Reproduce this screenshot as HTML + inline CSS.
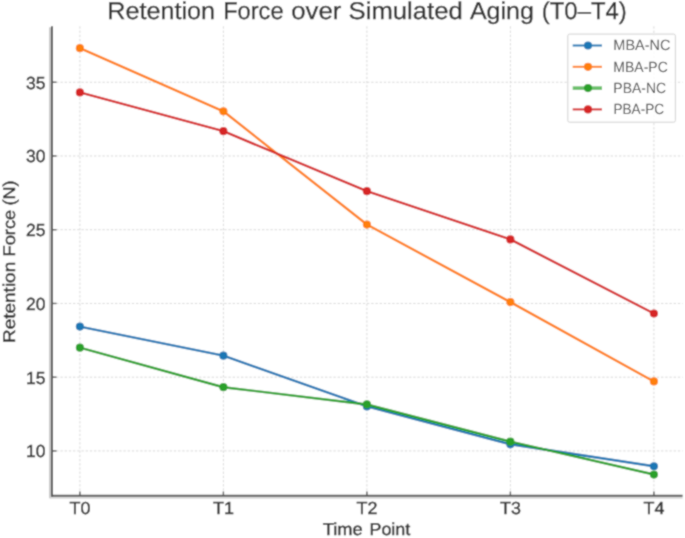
<!DOCTYPE html>
<html><head><meta charset="utf-8"><style>
html,body{margin:0;padding:0;background:#fff;}
body{width:685px;height:538px;overflow:hidden;}
svg{display:block;font-family:"Liberation Sans", sans-serif;text-rendering:geometricPrecision;}

</style></head><body>
<svg width="685" height="538" viewBox="0 0 685 538">
<defs><filter id="bl" filterUnits="userSpaceOnUse" x="0" y="0" width="685" height="538"><feConvolveMatrix order="3" kernelMatrix="1 2 1 2 8 2 1 2 1" divisor="20" edgeMode="duplicate" preserveAlpha="false"/></filter></defs>
<rect x="0" y="0" width="685" height="538" fill="#fff"/>
<g filter="url(#bl)">
<rect x="0" y="0" width="685" height="538" fill="#fff"/>
<line x1="79.90" y1="26.30" x2="79.90" y2="496.00" stroke="#d9d9d9" stroke-width="1" stroke-dasharray="2.4 1.8"/>
<line x1="223.40" y1="26.30" x2="223.40" y2="496.00" stroke="#d9d9d9" stroke-width="1" stroke-dasharray="2.4 1.8"/>
<line x1="366.90" y1="26.30" x2="366.90" y2="496.00" stroke="#d9d9d9" stroke-width="1" stroke-dasharray="2.4 1.8"/>
<line x1="510.40" y1="26.30" x2="510.40" y2="496.00" stroke="#d9d9d9" stroke-width="1" stroke-dasharray="2.4 1.8"/>
<line x1="653.90" y1="26.30" x2="653.90" y2="496.00" stroke="#d9d9d9" stroke-width="1" stroke-dasharray="2.4 1.8"/>
<line x1="52.00" y1="450.93" x2="682.60" y2="450.93" stroke="#d9d9d9" stroke-width="1" stroke-dasharray="2.4 1.8"/>
<line x1="52.00" y1="377.19" x2="682.60" y2="377.19" stroke="#d9d9d9" stroke-width="1" stroke-dasharray="2.4 1.8"/>
<line x1="52.00" y1="303.45" x2="682.60" y2="303.45" stroke="#d9d9d9" stroke-width="1" stroke-dasharray="2.4 1.8"/>
<line x1="52.00" y1="229.71" x2="682.60" y2="229.71" stroke="#d9d9d9" stroke-width="1" stroke-dasharray="2.4 1.8"/>
<line x1="52.00" y1="155.97" x2="682.60" y2="155.97" stroke="#d9d9d9" stroke-width="1" stroke-dasharray="2.4 1.8"/>
<line x1="52.00" y1="82.23" x2="682.60" y2="82.23" stroke="#d9d9d9" stroke-width="1" stroke-dasharray="2.4 1.8"/>
<polyline points="79.90,326.60 223.40,355.66 366.90,406.39 510.40,444.29 653.90,466.27" fill="none" stroke="#1f77b4" stroke-width="2.4" stroke-linejoin="round" stroke-linecap="round"/>
<circle cx="79.90" cy="326.60" r="4.1" fill="#1f77b4"/>
<circle cx="223.40" cy="355.66" r="4.1" fill="#1f77b4"/>
<circle cx="366.90" cy="406.39" r="4.1" fill="#1f77b4"/>
<circle cx="510.40" cy="444.29" r="4.1" fill="#1f77b4"/>
<circle cx="653.90" cy="466.27" r="4.1" fill="#1f77b4"/>
<polyline points="79.90,48.16 223.40,111.28 366.90,224.55 510.40,302.12 653.90,381.47" fill="none" stroke="#ff7f0e" stroke-width="2.4" stroke-linejoin="round" stroke-linecap="round"/>
<circle cx="79.90" cy="48.16" r="4.1" fill="#ff7f0e"/>
<circle cx="223.40" cy="111.28" r="4.1" fill="#ff7f0e"/>
<circle cx="366.90" cy="224.55" r="4.1" fill="#ff7f0e"/>
<circle cx="510.40" cy="302.12" r="4.1" fill="#ff7f0e"/>
<circle cx="653.90" cy="381.47" r="4.1" fill="#ff7f0e"/>
<polyline points="79.90,347.69 223.40,387.22 366.90,404.47 510.40,441.64 653.90,474.53" fill="none" stroke="#2ca02c" stroke-width="2.4" stroke-linejoin="round" stroke-linecap="round"/>
<circle cx="79.90" cy="347.69" r="4.1" fill="#2ca02c"/>
<circle cx="223.40" cy="387.22" r="4.1" fill="#2ca02c"/>
<circle cx="366.90" cy="404.47" r="4.1" fill="#2ca02c"/>
<circle cx="510.40" cy="441.64" r="4.1" fill="#2ca02c"/>
<circle cx="653.90" cy="474.53" r="4.1" fill="#2ca02c"/>
<polyline points="79.90,92.41 223.40,131.19 366.90,191.22 510.40,239.44 653.90,313.48" fill="none" stroke="#d62728" stroke-width="2.4" stroke-linejoin="round" stroke-linecap="round"/>
<circle cx="79.90" cy="92.41" r="4.1" fill="#d62728"/>
<circle cx="223.40" cy="131.19" r="4.1" fill="#d62728"/>
<circle cx="366.90" cy="191.22" r="4.1" fill="#d62728"/>
<circle cx="510.40" cy="239.44" r="4.1" fill="#d62728"/>
<circle cx="653.90" cy="313.48" r="4.1" fill="#d62728"/>
<line x1="50.00" y1="27.30" x2="50.00" y2="498.20" stroke="#c8c8c8" stroke-width="2"/>
<line x1="50.00" y1="497.70" x2="682.60" y2="497.70" stroke="#d8d8d8" stroke-width="2"/>
<line x1="52.00" y1="26.30" x2="52.00" y2="496.70" stroke="#555555" stroke-width="2"/>
<line x1="51.00" y1="495.70" x2="682.60" y2="495.70" stroke="#555555" stroke-width="2"/>
<line x1="79.90" y1="496.00" x2="79.90" y2="491.50" stroke="#555555" stroke-width="1.4"/>
<line x1="223.40" y1="496.00" x2="223.40" y2="491.50" stroke="#555555" stroke-width="1.4"/>
<line x1="366.90" y1="496.00" x2="366.90" y2="491.50" stroke="#555555" stroke-width="1.4"/>
<line x1="510.40" y1="496.00" x2="510.40" y2="491.50" stroke="#555555" stroke-width="1.4"/>
<line x1="653.90" y1="496.00" x2="653.90" y2="491.50" stroke="#555555" stroke-width="1.4"/>
<line x1="52.00" y1="450.93" x2="56.50" y2="450.93" stroke="#555555" stroke-width="1.4"/>
<line x1="52.00" y1="377.19" x2="56.50" y2="377.19" stroke="#555555" stroke-width="1.4"/>
<line x1="52.00" y1="303.45" x2="56.50" y2="303.45" stroke="#555555" stroke-width="1.4"/>
<line x1="52.00" y1="229.71" x2="56.50" y2="229.71" stroke="#555555" stroke-width="1.4"/>
<line x1="52.00" y1="155.97" x2="56.50" y2="155.97" stroke="#555555" stroke-width="1.4"/>
<line x1="52.00" y1="82.23" x2="56.50" y2="82.23" stroke="#555555" stroke-width="1.4"/>
<text transform="translate(79.90,513.60) scale(1.0300,1)" text-anchor="middle" font-size="17.4" fill="#2e2e2e" stroke="#2e2e2e" stroke-width="0.45">T0</text>
<text transform="translate(223.40,513.60) scale(1.0300,1)" text-anchor="middle" font-size="17.4" fill="#2e2e2e" stroke="#2e2e2e" stroke-width="0.45">T1</text>
<text transform="translate(366.90,513.60) scale(1.0300,1)" text-anchor="middle" font-size="17.4" fill="#2e2e2e" stroke="#2e2e2e" stroke-width="0.45">T2</text>
<text transform="translate(510.40,513.60) scale(1.0300,1)" text-anchor="middle" font-size="17.4" fill="#2e2e2e" stroke="#2e2e2e" stroke-width="0.45">T3</text>
<text transform="translate(653.90,513.60) scale(1.0300,1)" text-anchor="middle" font-size="17.4" fill="#2e2e2e" stroke="#2e2e2e" stroke-width="0.45">T4</text>
<text transform="translate(45.50,457.33)" text-anchor="end" font-size="17.5" fill="#2e2e2e" stroke="#2e2e2e" stroke-width="0.45">10</text>
<text transform="translate(45.50,383.59)" text-anchor="end" font-size="17.5" fill="#2e2e2e" stroke="#2e2e2e" stroke-width="0.45">15</text>
<text transform="translate(45.50,309.85)" text-anchor="end" font-size="17.5" fill="#2e2e2e" stroke="#2e2e2e" stroke-width="0.45">20</text>
<text transform="translate(45.50,236.11)" text-anchor="end" font-size="17.5" fill="#2e2e2e" stroke="#2e2e2e" stroke-width="0.45">25</text>
<text transform="translate(45.50,162.37)" text-anchor="end" font-size="17.5" fill="#2e2e2e" stroke="#2e2e2e" stroke-width="0.45">30</text>
<text transform="translate(45.50,88.63)" text-anchor="end" font-size="17.5" fill="#2e2e2e" stroke="#2e2e2e" stroke-width="0.45">35</text>
<text transform="translate(322.80,535.30) scale(1.0677,1)" text-anchor="start" font-size="17.15" fill="#2e2e2e" stroke="#2e2e2e" stroke-width="0.45">Time</text>
<text transform="translate(369.43,535.30) scale(1.0464,1)" text-anchor="start" font-size="17.15" fill="#2e2e2e" stroke="#2e2e2e" stroke-width="0.45">Point</text>
<text transform="translate(14.50,343.06) rotate(-90) scale(1.1170,1)" text-anchor="start" font-size="17.0" fill="#2e2e2e" stroke="#2e2e2e" stroke-width="0.45">Retention</text>
<text transform="translate(14.50,256.50) rotate(-90) scale(1.0772,1)" text-anchor="start" font-size="17.0" fill="#2e2e2e" stroke="#2e2e2e" stroke-width="0.45">Force</text>
<text transform="translate(14.50,205.42) rotate(-90) scale(1.0611,1)" text-anchor="start" font-size="17.0" fill="#2e2e2e" stroke="#2e2e2e" stroke-width="0.45">(N)</text>
<text transform="translate(107.23,18.70) scale(1.0416,1)" text-anchor="start" font-size="24.2" fill="#2e2e2e" stroke="#2e2e2e" stroke-width="0.3">Retention</text>
<text transform="translate(223.16,18.70) scale(0.9761,1)" text-anchor="start" font-size="24.2" fill="#2e2e2e" stroke="#2e2e2e" stroke-width="0.3">Force</text>
<text transform="translate(291.17,18.70) scale(1.0659,1)" text-anchor="start" font-size="24.2" fill="#2e2e2e" stroke="#2e2e2e" stroke-width="0.3">over</text>
<text transform="translate(348.62,18.70) scale(1.0605,1)" text-anchor="start" font-size="24.2" fill="#2e2e2e" stroke="#2e2e2e" stroke-width="0.3">Simulated</text>
<text transform="translate(469.95,18.70) scale(1.0335,1)" text-anchor="start" font-size="24.2" fill="#2e2e2e" stroke="#2e2e2e" stroke-width="0.3">Aging</text>
<text transform="translate(541.82,18.70) scale(0.9873,1)" text-anchor="start" font-size="24.2" fill="#2e2e2e" stroke="#2e2e2e" stroke-width="0.3">(T0–T4)</text>
<rect x="567.8" y="34.1" width="107.6" height="88.1" rx="1.8" fill="#ffffff" fill-opacity="0.85" stroke="#d0d0d0" stroke-width="1"/>
<line x1="572.7" y1="45.50" x2="602" y2="45.50" stroke="#1f77b4" stroke-width="2.0"/>
<circle cx="588" cy="45.50" r="4.1" fill="#1f77b4"/>
<text transform="translate(613.31,50.30) scale(0.9789,1)" text-anchor="start" font-size="14.8" fill="#4a4a4a" stroke="#4a4a4a" stroke-width="0">MBA-NC</text>
<line x1="572.7" y1="66.80" x2="602" y2="66.80" stroke="#ff7f0e" stroke-width="2.0"/>
<circle cx="588" cy="66.80" r="4.1" fill="#ff7f0e"/>
<text transform="translate(613.35,71.60) scale(0.9466,1)" text-anchor="start" font-size="14.8" fill="#4a4a4a" stroke="#4a4a4a" stroke-width="0">MBA-PC</text>
<line x1="572.7" y1="88.10" x2="602" y2="88.10" stroke="#6abf6a" stroke-width="3.6"/>
<circle cx="588" cy="88.10" r="4.1" fill="#2ca02c"/>
<text transform="translate(613.35,92.90) scale(0.9439,1)" text-anchor="start" font-size="14.8" fill="#4a4a4a" stroke="#4a4a4a" stroke-width="0">PBA-NC</text>
<line x1="572.7" y1="109.40" x2="602" y2="109.40" stroke="#d62728" stroke-width="2.0"/>
<circle cx="588" cy="109.40" r="4.1" fill="#d62728"/>
<text transform="translate(613.38,114.20) scale(0.9208,1)" text-anchor="start" font-size="14.8" fill="#4a4a4a" stroke="#4a4a4a" stroke-width="0">PBA-PC</text>
</g>
</svg>
</body></html>
